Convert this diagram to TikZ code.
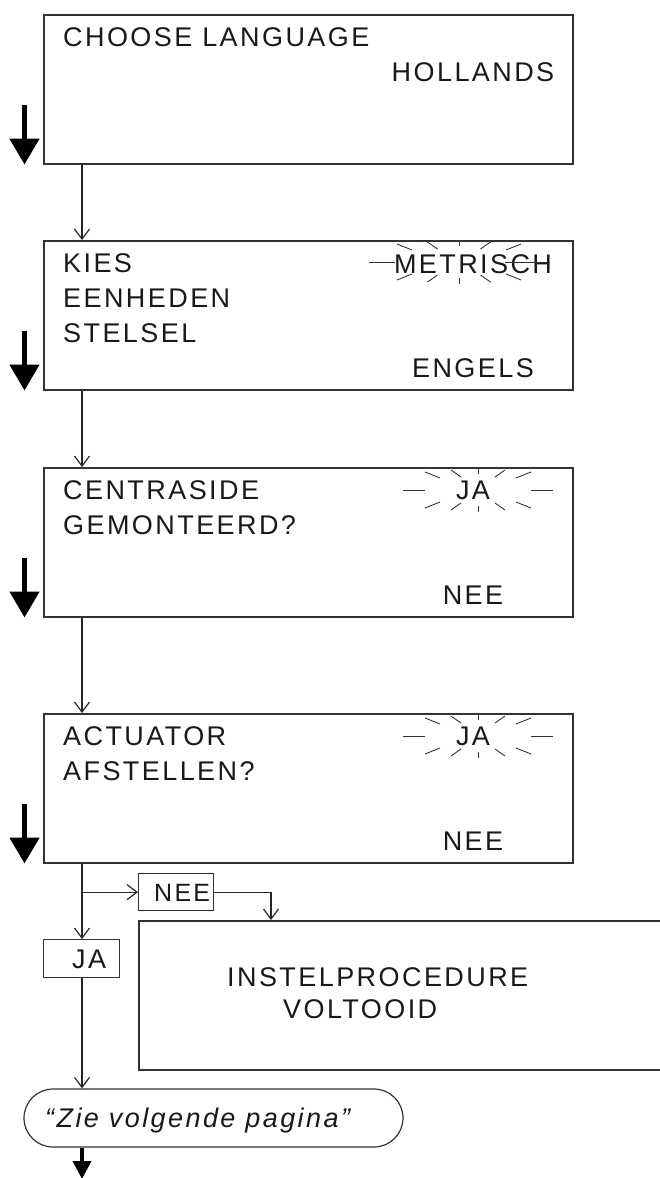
\documentclass[tikz,border=0pt]{standalone}
\usepackage{fontspec}
\setmainfont{Liberation Sans}[LetterSpace=9]
\usetikzlibrary{arrows.meta, calc, shapes.misc}

\tikzset{
  screen/.style={draw=black!80, line width=1.5pt, anchor=north west, inner sep=0pt,
    minimum width=529pt, minimum height=149pt},
  tag/.style={draw=black!80, line width=1.3pt, anchor=north west, inner sep=0pt},
  lcd/.style={font=\fontsize{27}{32}\selectfont, text=black!90, inner sep=0pt},
  flow/.style={draw=black!85, line width=1.2pt, -{Straight Barb[length=10pt,width=15pt]}},
  bigarrow/.style={line width=5pt, -{Triangle[length=26pt,width=29pt]}},
  ray/.style={draw=black!80, line width=0.9pt}
}

% blinking marks round the chosen option
\newcommand{\blink}[4]{%
  \begin{scope}[shift={#1}]
    \draw[ray] #3; \draw[ray] #4;
    \foreach \sx in {-1,1} \foreach \sy in {-1,1} {
      \draw[ray] ({\sx*(38+#2)},{\sy*12}) -- ++({\sx*15},{\sy*6});
      \draw[ray] ({\sx*(17+#2/2)},{\sy*13}) -- ++({\sx*10},{\sy*7});
    }
    \foreach \sy in {-1,1} \draw[ray] (0,{\sy*16}) -- (0,{\sy*22});
  \end{scope}}

\begin{document}
\begin{tikzpicture}[x=1pt, y=-1pt]
  \useasboundingbox (0,0) rectangle (660,1178);

  % display screens
  \node[screen] (lang) at (43,14) {};
  \node[screen] (units) at (43,240) {};
  \node[screen] (centra) at (43,467) {};
  \node[screen] (actua) at (43,713) {};
  \node[screen, minimum width=560pt] (done) at (138,920) {};
  \node[tag, minimum width=75pt, minimum height=37pt] (neeBox) at (138,873) {};
  \node[tag, minimum width=76pt, minimum height=38pt] (jaBox) at (43,939) {};
  \node[tag, rounded rectangle, anchor=center, line width=1.2pt, minimum width=379pt,
    minimum height=58pt] (term) at (213.5,1118) {};

  % screen texts
  \node[lcd, anchor=base west] (chooseTxt) at (63,46) {CHOOSE LANGUAGE};
  \node[lcd, anchor=base] (hollTxt) at (473,81) {HOLLANDS};

  \node[lcd, anchor=base west] (kiesTxt) at (63,272) {KIES};
  \node[lcd, anchor=base west] (eenhTxt) at (63,307) {EENHEDEN};
  \node[lcd, anchor=base west] (stelTxt) at (63,342) {STELSEL};
  \node[lcd, anchor=base] (metrTxt) at (473,273) {METRISCH};
  \node[lcd, anchor=base] (engTxt) at (473,377) {ENGELS};

  \node[lcd, anchor=base west] (centTxt) at (63,499) {CENTRASIDE};
  \node[lcd, anchor=base west] (gemTxt) at (63,534) {GEMONTEERD?};
  \node[lcd, anchor=base] (jaA) at (473,499) {JA};
  \node[lcd, anchor=base] (neeA) at (473,604) {NEE};

  \node[lcd, anchor=base west] (actTxt) at (63,745) {ACTUATOR};
  \node[lcd, anchor=base west] (afsTxt) at (63,780) {AFSTELLEN?};
  \node[lcd, anchor=base] (jaB) at (473,745) {JA};
  \node[lcd, anchor=base] (neeB) at (473,850) {NEE};

  \node[lcd, anchor=base west, font=\fontsize{25}{30}\selectfont] (neeTxt) at (154,901) {NEE};
  \node[lcd, anchor=base west] (jaTxt) at (72,968) {JA};
  \node[lcd, anchor=base west] (instTxt) at (227,986) {INSTELPROCEDURE};
  \node[lcd, anchor=base west] (voltTxt) at (283,1018) {VOLTOOID};
  \node[lcd, anchor=base west, font=\fontsize{27}{32}\selectfont\itshape] (nextTxt)
    at (45,1127) {“Zie volgende pagina”};

  % blinking option marks
  \blink{(459,262)}{9}{(-90,0) -- (-64,0)}{(46,0) -- (91,0)}
  \blink{(478,490)}{0}{(-75,0) -- (-53,0)}{(53,0) -- (75,0)}
  \blink{(478,736)}{0}{(-75,0) -- (-53,0)}{(53,0) -- (75,0)}

  % scroll arrows beside the screens
  \foreach \b in {lang, units, centra, actua}
    \draw[bigarrow] ([shift={(-18.5,-60)}]\b.south west) -- ([xshift=-18.5pt]\b.south west);

  % connectors
  \coordinate (col) at (82,0);
  \coordinate (drop) at (271,0);
  \coordinate (next) at (82,1179);
  \foreach \a/\b in {lang/units, units/centra, centra/actua}
    \draw[flow] (col |- \a.south) -- (col |- \b.north);
  \draw[flow] (col |- actua.south) -- (col |- jaBox.north);
  \draw[flow] (col |- neeBox.west) -- (neeBox.west);
  \draw[flow] (neeBox.east) -| (drop |- done.north);
  \draw[flow] (col |- jaBox.south) -- (col |- term.north);
  \draw[bigarrow, line width=4pt, -{Triangle[length=18pt,width=18pt]}]
    (col |- term.south) -- (next);
\end{tikzpicture}
\end{document}
